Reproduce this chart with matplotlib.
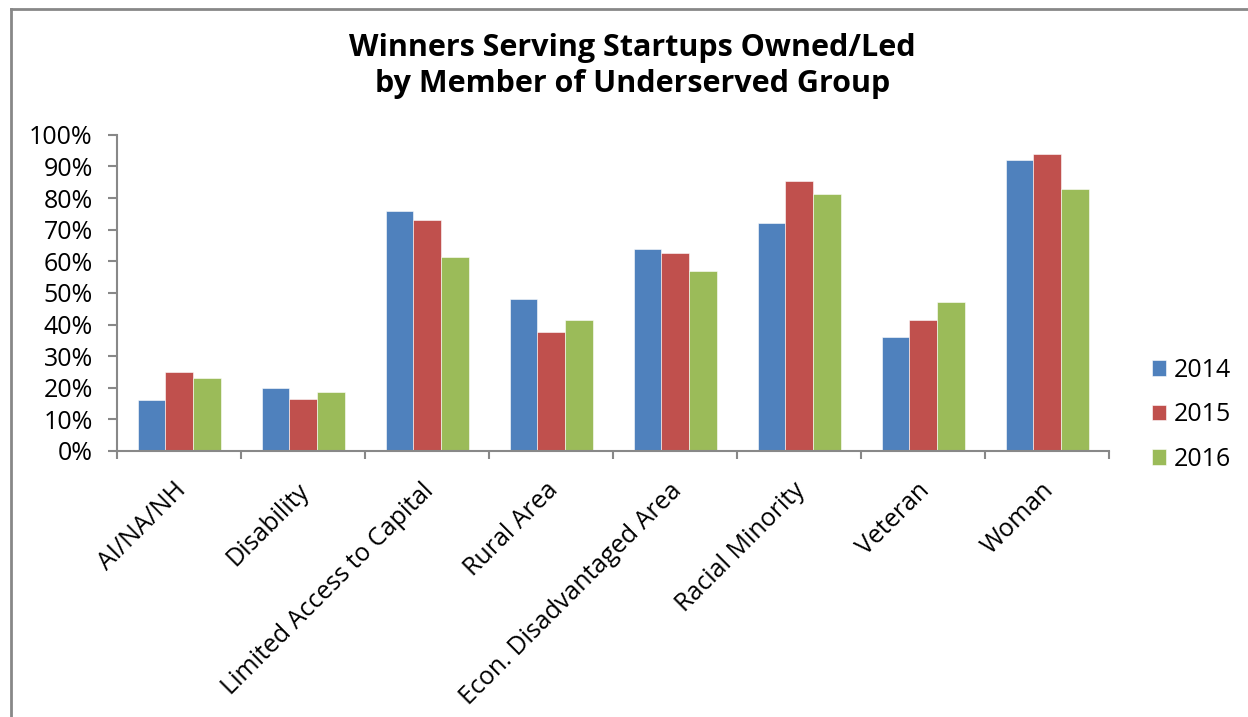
import numpy as np
import matplotlib
matplotlib.use("Agg")
import matplotlib.pyplot as plt
import matplotlib.transforms as mtransforms
from matplotlib.lines import Line2D

plt.rcParams['font.family'] = ['Open Sans', 'DejaVu Sans']

# data
categories = ['AI/NA/NH', 'Disability', 'Limited Access to Capital', 'Rural Area',
              'Econ. Disadvantaged Area', 'Racial Minority', 'Veteran', 'Woman']
years = ['2014', '2015', '2016']
vals_2014 = [16, 20, 76, 48, 64, 72, 36, 92]
vals_2015 = [25, 16.5, 73, 37.5, 62.5, 85.3, 41.5, 93.8]
vals_2016 = [23, 18.5, 61.3, 41.3, 57, 81.4, 47, 82.7]
colors = ['#4F81BD', '#C0504D', '#9BBB59']

fig = plt.figure(figsize=(12.48, 7.17), dpi=100)
ax = fig.add_axes([0.0938, 0.371, 0.795, 0.441])

x = np.arange(len(categories))
w = 0.223
series = [vals_2014, vals_2015, vals_2016]
for i, (vals, c, yr) in enumerate(zip(series, colors, years)):
    ax.bar(x + (i - 1) * w, vals, width=w, color=c, label=yr,
           edgecolor='white', linewidth=0.4)

ax.set_xlim(-0.5, len(categories) - 0.5)
ax.set_ylim(0, 100)
ax.set_yticks(np.arange(0, 101, 10))
ax.set_yticklabels([f'{v}%' for v in range(0, 101, 10)], fontsize=18)

# category labels at centers, tick marks between groups
ax.set_xticks(x)
ax.set_xticklabels(categories, rotation=45, ha='right', rotation_mode='anchor', fontsize=18)
ax.tick_params(axis='x', which='major', length=0, pad=18)
# nudge the rotated labels a little to the left
shift = mtransforms.ScaledTranslation(-6 / 100, -2 / 100, fig.dpi_scale_trans)
for lbl in ax.get_xticklabels():
    lbl.set_transform(lbl.get_transform() + shift)
ax.set_xticks(np.arange(-0.5, len(categories)), minor=True)
ax.tick_params(axis='x', which='minor', length=6, width=1.5, color='#888888', direction='out')
ax.tick_params(axis='y', length=6.5, width=1.5, color='#888888', pad=11)

for s in ['top', 'right']:
    ax.spines[s].set_visible(False)
for s in ['left', 'bottom']:
    ax.spines[s].set_color('#888888')
    ax.spines[s].set_linewidth(1.5)

leg = ax.legend(loc='center left', bbox_to_anchor=(1.033, 0.114), frameon=False,
                fontsize=18, handlelength=0.56, handleheight=0.56, labelspacing=0.78,
                handletextpad=0.3, borderaxespad=0)

fig.text(0.507, 0.908, 'Winners Serving Startups Owned/Led\nby Member of Underserved Group',
         ha='center', va='center', fontsize=22, fontweight='bold', linespacing=1.23)

# chart border
fig.add_artist(Line2D([0.0088, 0.0088], [0.0, 0.9868], color='#888888', lw=2, transform=fig.transFigure))
fig.add_artist(Line2D([0.0088, 1.0], [0.9868, 0.9868], color='#888888', lw=2, transform=fig.transFigure))

fig.savefig('out.png', dpi=100)
